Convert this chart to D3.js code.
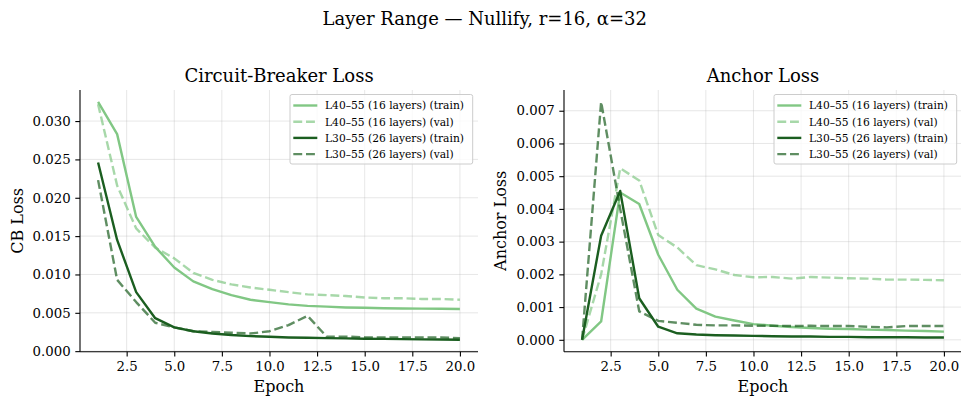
<!DOCTYPE html>
<html>
<head>
<meta charset="utf-8">
<script src="https://cdn.jsdelivr.net/npm/d3@7"></script>
<style>
  body { margin: 0; background: #fff; }
  svg { display: block; font-family: "DejaVu Serif", serif; }
</style>
</head>
<body>
<svg id="chart" width="961" height="396"></svg>
<script>
const epochs = d3.range(1, 21);

// Circuit-Breaker loss
const cbL40Train = [0.0325, 0.0283, 0.0175, 0.0136, 0.0109, 0.0091, 0.0081, 0.0073, 0.0067, 0.0064,
  0.0061, 0.0059, 0.0058, 0.0057, 0.00565, 0.0056, 0.00557, 0.00555, 0.00553, 0.0055];
const cbL40Val = [0.0322, 0.0216, 0.0160, 0.0135, 0.0121, 0.0102, 0.0093, 0.0087, 0.0083, 0.0080,
  0.0077, 0.0074, 0.0073, 0.0072, 0.0070, 0.0069, 0.0069, 0.0068, 0.0068, 0.0067];
const cbL30Train = [0.0246, 0.0145, 0.0077, 0.0043, 0.0031, 0.0026, 0.0023, 0.0021, 0.00196, 0.00187,
  0.00178, 0.00174, 0.0017, 0.00166, 0.00162, 0.0016, 0.00157, 0.00154, 0.00151, 0.00148];
const cbL30Val = [0.0223, 0.0093, 0.0064, 0.0037, 0.0031, 0.0026, 0.0025, 0.0024, 0.0023, 0.0026,
  0.0034, 0.0046, 0.0019, 0.0019, 0.0018, 0.0018, 0.0018, 0.0018, 0.0018, 0.0017];

// Anchor loss
const anL40Train = [0.0, 0.00056, 0.0045, 0.00415, 0.0026, 0.00153, 0.00095, 0.00071, 0.00059, 0.00048,
  0.00043, 0.00039, 0.00036, 0.00034, 0.00033, 0.00031, 0.0003, 0.00028, 0.00027, 0.00025];
const anL40Val = [0.0, 0.0020, 0.00524, 0.00487, 0.0032, 0.00282, 0.00228, 0.00215, 0.00198, 0.00191,
  0.00192, 0.00187, 0.00192, 0.0019, 0.00188, 0.00187, 0.00184, 0.00184, 0.00183, 0.00182];
const anL30Train = [0.0, 0.00318, 0.00455, 0.00127, 0.0004, 0.0002, 0.00016, 0.00014, 0.00013, 0.00012,
  0.00011, 0.0001, 0.0001, 0.00009, 0.00009, 0.00008, 0.00008, 0.00008, 0.00007, 0.00007];
const anL30Val = [0.0, 0.00727, 0.0040, 0.00087, 0.00058, 0.00052, 0.00046, 0.00044, 0.00044, 0.00043,
  0.00043, 0.00042, 0.00043, 0.00042, 0.00042, 0.0004, 0.00038, 0.00042, 0.00042, 0.00042];

const seriesNames = [
  "L40\u201355 (16 layers) (train)",
  "L40\u201355 (16 layers) (val)",
  "L30\u201355 (26 layers) (train)",
  "L30\u201355 (26 layers) (val)"
];
const xTicks = [2.5, 5, 7.5, 10, 12.5, 15, 17.5, 20];
const cbTicks = [0, 0.005, 0.01, 0.015, 0.02, 0.025, 0.03];
const anTicks = [0, 0.001, 0.002, 0.003, 0.004, 0.005, 0.006, 0.007];

const styles = [
  { color: "#81c784", opacity: 1, dash: null },
  { color: "#81c784", opacity: 0.7, dash: "8.9,3.8" },
  { color: "#1b5e20", opacity: 1, dash: null },
  { color: "#1b5e20", opacity: 0.7, dash: "8.9,3.8" }
];

const svg = d3.select("#chart");
svg.append("rect").attr("width", 961).attr("height", 396).attr("fill", "#fff");

svg.append("text")
  .attr("x", 484.7).attr("y", 25)
  .attr("text-anchor", "middle")
  .attr("font-size", 18)
  .text("Layer Range \u2014 Nullify, r=16, \u03b1=32");

function panel(opts) {
  const { left, right, top, bottom, series, yTicks, title, yLabel, yLabelX } = opts;

  const x = d3.scaleLinear().domain([0.05, 20.95]).range([left, right]);
  const all = series.flat();
  const lo = d3.min(all), hi = d3.max(all);
  const pad = (hi - lo) * 0.05;
  const y = d3.scaleLinear().domain([lo - pad, hi + pad]).range([bottom, top]);

  const g = svg.append("g");

  // grid
  g.append("g").selectAll("line").data(xTicks).join("line")
    .attr("x1", d => x(d)).attr("x2", d => x(d))
    .attr("y1", top).attr("y2", bottom)
    .attr("stroke", "#b0b0b0").attr("stroke-opacity", 0.3).attr("stroke-width", 1);
  g.append("g").selectAll("line").data(yTicks).join("line")
    .attr("x1", left).attr("x2", right)
    .attr("y1", d => y(d)).attr("y2", d => y(d))
    .attr("stroke", "#b0b0b0").attr("stroke-opacity", 0.3).attr("stroke-width", 1);

  // lines
  const line = d3.line().x((d, i) => x(epochs[i])).y(d => y(d));
  series.forEach((s, i) => {
    g.append("path")
      .datum(s)
      .attr("fill", "none")
      .attr("stroke", styles[i].color)
      .attr("stroke-opacity", styles[i].opacity)
      .attr("stroke-width", 2.4)
      .attr("stroke-dasharray", styles[i].dash)
      .attr("stroke-linejoin", "round")
      .attr("d", line);
  });

  // axes
  const xAxis = g.append("g")
    .attr("transform", `translate(0,${bottom})`)
    .call(d3.axisBottom(x).tickValues(xTicks).tickFormat(d3.format(".1f")).tickSize(4.7).tickPadding(4.7));
  const yAxis = g.append("g")
    .attr("transform", `translate(${left},0)`)
    .call(d3.axisLeft(y).tickValues(yTicks).tickFormat(d3.format(".3f")).tickSize(4.7).tickPadding(4.7));
  [xAxis, yAxis].forEach(a => {
    a.attr("font-family", "DejaVu Serif").attr("font-size", 13.3);
    a.select(".domain").remove();
    a.selectAll(".tick line").attr("stroke", "#000").attr("stroke-width", 1.1);
    a.selectAll(".tick text").attr("fill", "#000");
  });
  g.append("line").attr("x1", left).attr("x2", right).attr("y1", bottom).attr("y2", bottom)
    .attr("stroke", "#000").attr("stroke-width", 1.1);
  g.append("line").attr("x1", left).attr("x2", left).attr("y1", top).attr("y2", bottom)
    .attr("stroke", "#000").attr("stroke-width", 1.1);

  // labels
  g.append("text")
    .attr("x", (left + right) / 2).attr("y", 82)
    .attr("text-anchor", "middle").attr("font-size", 18)
    .text(title);
  g.append("text")
    .attr("x", (left + right) / 2).attr("y", 391.5)
    .attr("text-anchor", "middle").attr("font-size", 16)
    .text("Epoch");
  g.append("text")
    .attr("transform", `translate(${yLabelX},${(top + bottom) / 2}) rotate(-90)`)
    .attr("text-anchor", "middle").attr("font-size", 16)
    .text(yLabel);

  // legend
  const lw = 182.7, lh = 69.5;
  const lx = right - 5.3 - lw, ly = top + 4.5;
  const leg = g.append("g").attr("transform", `translate(${lx},${ly})`);
  leg.append("rect")
    .attr("width", lw).attr("height", lh).attr("rx", 2)
    .attr("fill", "#fff").attr("fill-opacity", 0.8)
    .attr("stroke", "#cccccc").attr("stroke-width", 1);
  seriesNames.forEach((name, i) => {
    const cy = 11 + i * 16.2;
    leg.append("line")
      .attr("x1", 3.3).attr("x2", 27.3).attr("y1", cy).attr("y2", cy)
      .attr("stroke", styles[i].color)
      .attr("stroke-opacity", styles[i].opacity)
      .attr("stroke-width", 2.4)
      .attr("stroke-dasharray", styles[i].dash);
    leg.append("text")
      .attr("x", 35).attr("y", cy + 3.8)
      .attr("font-size", 10.7)
      .text(name);
  });
}

panel({
  left: 80, right: 478, top: 90, bottom: 351.7,
  series: [cbL40Train, cbL40Val, cbL30Train, cbL30Val],
  yTicks: cbTicks, title: "Circuit-Breaker Loss", yLabel: "CB Loss", yLabelX: 22.5
});
panel({
  left: 564, right: 962, top: 90, bottom: 351.7,
  series: [anL40Train, anL40Val, anL30Train, anL30Val],
  yTicks: anTicks, title: "Anchor Loss", yLabel: "Anchor Loss", yLabelX: 506
});
</script>
</body>
</html>
